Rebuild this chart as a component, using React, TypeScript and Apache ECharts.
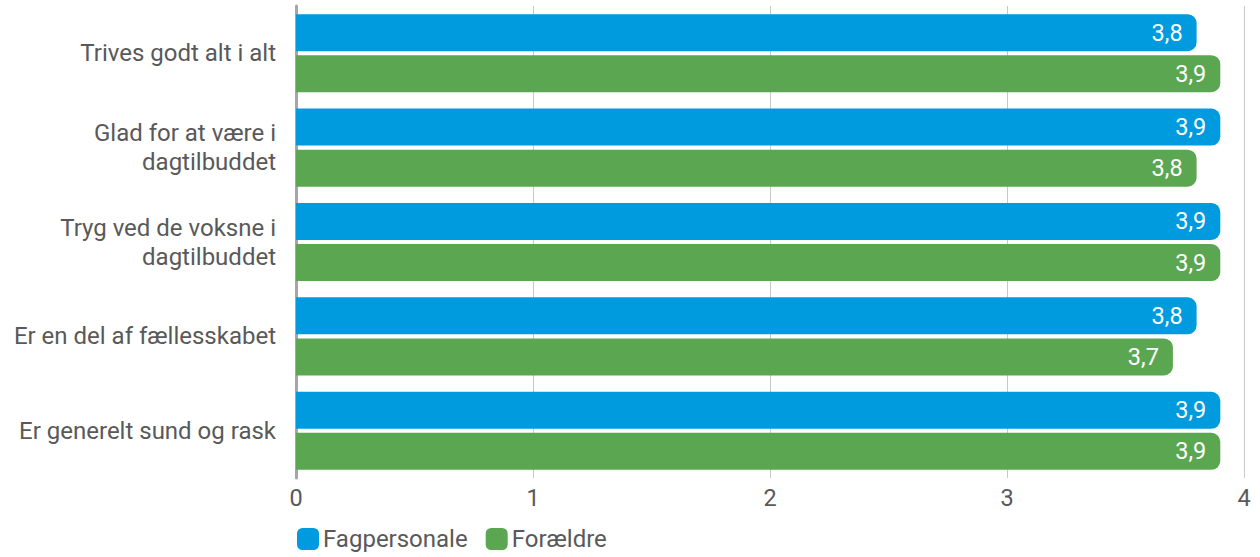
import React, { useEffect, useRef } from "react";
import * as echarts from "echarts";

const categories = [
  "Trives godt alt i alt",
  "Glad for at være i\ndagtilbuddet",
  "Tryg ved de voksne i\ndagtilbuddet",
  "Er en del af fællesskabet",
  "Er generelt sund og rask",
];
const fagpersonale = [3.8, 3.9, 3.9, 3.8, 3.9];
const foraeldre = [3.9, 3.8, 3.9, 3.7, 3.9];
const seriesNames = ["Fagpersonale", "Forældre"];
const colors = ["#009ADF", "#5BA651"];

export default function App() {
  const ref = useRef<HTMLDivElement>(null);
  useEffect(() => {
    if (!ref.current) return;
    const chart = echarts.init(ref.current, null, { renderer: "svg" });
    const font = "Roboto";
    const textColor = "#595959";
    const mkSeries = (name: string, data: number[], color: string) => ({
      name,
      type: "bar",
      data,
      barWidth: 37,
      barGap: "11%",
      itemStyle: { color, borderRadius: [0, 9, 9, 0] },
      label: {
        show: true,
        position: "insideRight",
        distance: 14,
        color: "#ffffff",
        fontFamily: font,
        fontSize: 23.5,
        formatter: (p: any) => String(p.value).replace(".", ","),
      },
    });
    chart.setOption({
      animation: false,
      color: colors,
      grid: { left: 296, right: 16, top: 6, bottom: 79, containLabel: false },
      xAxis: {
        type: "value",
        min: 0,
        max: 4,
        interval: 1,
        axisLine: { show: false },
        axisTick: { show: false },
        splitLine: { lineStyle: { color: "#c8c8c8", width: 1 } },
        axisLabel: { fontFamily: font, fontSize: 23.5, color: textColor, margin: 8 },
      },
      yAxis: {
        type: "category",
        inverse: true,
        data: categories,
        axisLine: { show: true, lineStyle: { color: "#a6a6a6", width: 3 } },
        axisTick: { show: false },
        axisLabel: {
          fontFamily: font,
          fontSize: 24,
          color: textColor,
          margin: 20,
          lineHeight: 29,
          align: "right",
        },
      },
      legend: {
        left: 292,
        bottom: 1,
        icon: "roundRect",
        itemWidth: 22,
        itemHeight: 22,
        itemGap: 18,
        textStyle: { fontFamily: font, fontSize: 24, color: textColor, padding: [0, 0, 0, -1] },
        data: seriesNames,
      },
      series: [
        mkSeries(seriesNames[0], fagpersonale, colors[0]),
        mkSeries(seriesNames[1], foraeldre, colors[1]),
      ],
    });
    return () => chart.dispose();
  }, []);
  return (
    <div
      ref={ref}
      style={{ position: "fixed", left: 0, top: 0, width: 1260, height: 557, background: "#fff" }}
    />
  );
}
